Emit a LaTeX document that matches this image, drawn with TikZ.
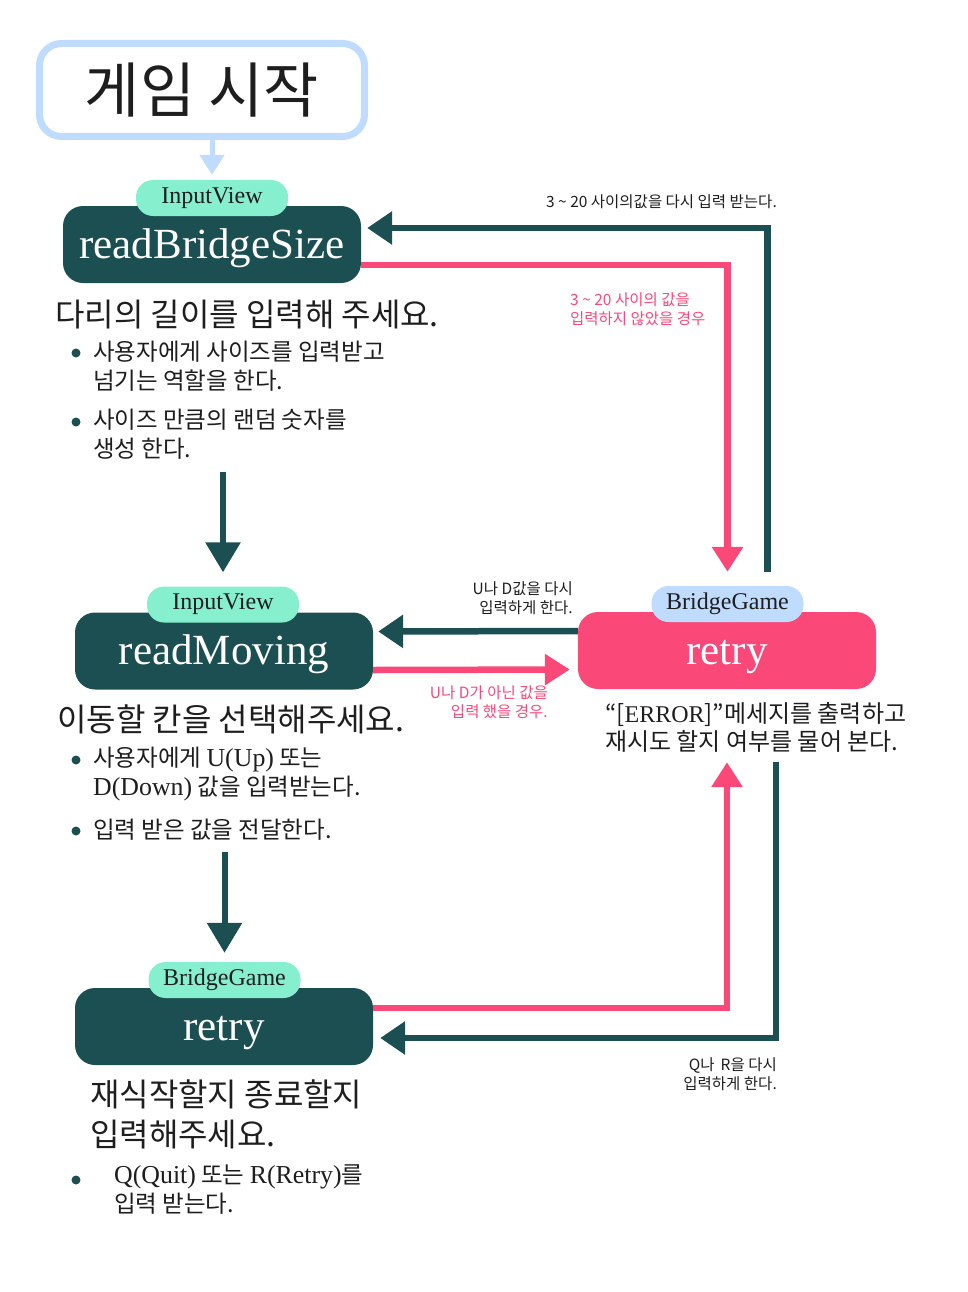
\documentclass[tikz,border=0pt]{standalone}
\usepackage{fontspec}
\setmainfont{Noto Sans CJK KR}
\newfontfamily\enfont{Liberation Serif}
\newfontfamily\enmix[Scale=1.1]{Liberation Serif}
\usetikzlibrary{arrows.meta}
\definecolor{deepteal}{HTML}{1B4F51}
\definecolor{hotpink}{HTML}{FA4878}
\definecolor{skyblue}{HTML}{BFDBFE}
\definecolor{mint}{HTML}{86EFCE}
\definecolor{ink}{HTML}{1E1E1E}
\begin{document}
\begin{tikzpicture}[x=1pt,y=-1pt,
  startbox/.style={draw=skyblue, line width=7pt, rounded corners=22pt, minimum width=325pt, minimum height=93pt, text=ink, font=\fontsize{60}{70}\selectfont},
  mainbox/.style={fill=deepteal, rounded corners=20pt, minimum width=298pt, minimum height=77pt, text=white, inner sep=0pt, text height=32pt, text depth=5pt, font=\enfont\fontsize{43}{50}\selectfont},
  tag/.style={fill=mint, rounded corners=17pt, minimum width=152pt, minimum height=36pt, inner sep=0pt, text=ink, font=\enfont\fontsize{24}{28}\selectfont},
  heading/.style={inner sep=0pt, text=ink, align=left, font=\fontsize{32}{40}\selectfont},
  bullet/.style={inner sep=0pt, text=ink, align=left, font=\fontsize{23.5}{29}\selectfont},
  note/.style={inner sep=0pt, text=ink, font=\fontsize{15.5}{19}\selectfont},
  darkline/.style={draw=deepteal, line width=6.5pt, -{Triangle[width=32pt,length=25pt]}},
  pinkline/.style={draw=hotpink, line width=6.5pt, -{Triangle[width=30pt,length=25pt]}},
  downarrow/.style={draw=deepteal, line width=6pt, -{Triangle[width=34pt,length=30pt]}}]
\useasboundingbox (0,0) rectangle (968,1292);
% start
\node[startbox] (start) at (202,90) {게임 시작};
% left column
\node[mainbox] (size) at (212,244.5) {readBridgeSize};
\node[tag] (tag1) at (212,198) {InputView};
\node[mainbox] (move) at (224,651) {readMoving};
\node[tag] (tag2) at (223,604.5) {InputView};
\node[mainbox] (quit) at (224,1026.5) {retry};
\node[tag] (tag3) at (224.5,980) {BridgeGame};
% right
\node[mainbox, fill=hotpink] (err) at (727,650.5) {retry};
\node[tag, fill=skyblue] (errtag) at (727.5,604) {BridgeGame};
% texts
\node[heading, anchor=west] (head1) at (55,315) {다리의 길이를 입력해 주세요.};
\node[bullet, anchor=north west] (bul1) at (93,341) {사용자에게 사이즈를 입력받고\\넘기는 역할을 한다.};
\node[bullet, anchor=north west] (bul2) at (93,409) {사이즈 만큼의 랜덤 숫자를\\생성 한다.};
\node[heading, anchor=west] (head2) at (57,719) {이동할 칸을 선택해주세요.};
\node[bullet, anchor=north west] (bul3) at (93,747) {사용자에게 {\enmix U(Up)} 또는\\{\enmix D(Down)} 값을 입력받는다.};
\node[bullet, anchor=west] (bul4) at (93,830) {입력 받은 값을 전달한다.};
\node[heading, anchor=north west] (head3) at (90,1080) {재식작할지 종료할지\\입력해주세요.};
\node[bullet, anchor=north west] (bul5) at (114,1164) {{\enmix Q(Quit)} 또는 {\enmix R(Retry)}를\\입력 받는다.};
\node[bullet, anchor=north west, font=\fontsize{24}{28}\selectfont] (errtxt) at (605,702) {“[{\enfont ERROR}]”메세지를 출력하고\\재시도 할지 여부를 물어 본다.};
\foreach \y in {353,422,760,831,1180}
  \fill[deepteal] (76,\y) circle (4.5pt);
% notes
\node[note, anchor=east] (n1) at (777,202) {3 \char"007E{} 20 사이의값을 다시 입력 받는다.};
\node[note, anchor=north west, align=left, text=hotpink] (n2) at (570,292) {3 \char"007E{} 20 사이의 값을\\입력하지 않았을 경우};
\node[note, anchor=north east, align=right] (n3) at (573,581) {U나 D값을 다시\\입력하게 한다.};
\node[note, anchor=north east, align=right, text=hotpink] (n4) at (548,685) {U나 D가 아닌 값을\\입력 했을 경우.};
\node[note, anchor=north east, align=right] (n5) at (777,1057) {Q나 \,R을 다시\\입력하게 한다.};
% connectors
\draw[draw=skyblue, line width=5pt, -{Triangle[width=24pt,length=20pt]}, shorten >=5pt] (start.south -| tag1.north) -- (tag1.north);
\draw[downarrow, shorten <=12pt, shorten >=14pt] (tag2.north |- bul2.south) -- (tag2.north);
\draw[downarrow, shorten <=11pt, shorten >=9pt] (tag3.north |- bul4.south) -- (tag3.north);
\draw[darkline, shorten <=14pt, shorten >=6pt] ([xshift=40pt]errtag.north) |- ([yshift=16.5pt]size.east);
\draw[pinkline, shorten >=14pt] ([yshift=-20.5pt]size.east) -| (errtag.north);
\draw[darkline, shorten >=5pt] ([yshift=19.5pt]err.west) -- ([yshift=19.5pt]move.east);
\draw[pinkline, shorten >=8pt] ([yshift=-19pt]move.east) -- ([yshift=-19pt]err.west);
\draw[pinkline, shorten >=73pt] ([yshift=18.5pt]quit.east) -| (err.south);
\draw[darkline, shorten <=73pt, shorten >=7pt] ([xshift=49pt]err.south) |- ([yshift=-11.5pt]quit.east);
\end{tikzpicture}
\end{document}
